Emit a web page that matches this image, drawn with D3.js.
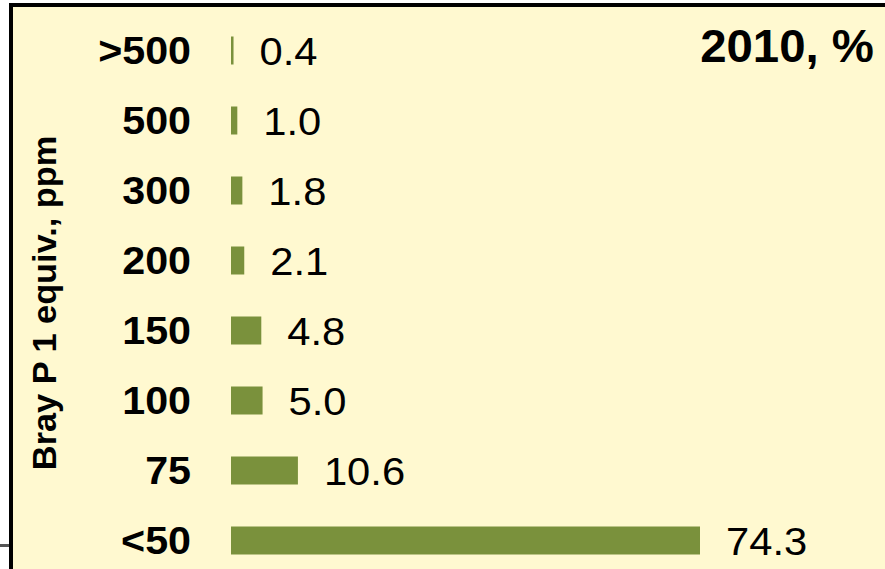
<!DOCTYPE html>
<html>
<head>
<meta charset="utf-8">
<script src="https://cdn.jsdelivr.net/npm/d3@7"></script>
<style>
  html, body { margin: 0; padding: 0; background: #ffffff; }
  svg { display: block; }
  text { font-family: Arial, "Liberation Sans", sans-serif; }
</style>
</head>
<body>
<div id="chart"></div>
<script>
const categories = [">500", "500", "300", "200", "150", "100", "75", "<50"];
const values = [0.4, 1.0, 1.8, 2.1, 4.8, 5.0, 10.6, 74.3];
const valueLabels = ["0.4", "1.0", "1.8", "2.1", "4.8", "5.0", "10.6", "74.3"];
const title = "2010, %";
const yAxisTitle = "Bray P 1 equiv., ppm";

const W = 885, H = 569;
const svg = d3.select("#chart").append("svg")
  .attr("width", W).attr("height", H);

// panel background
svg.append("rect").attr("x", 13).attr("y", 7).attr("width", W - 13).attr("height", H - 7)
  .attr("fill", "#fff9d0");
// borders
svg.append("rect").attr("x", 9).attr("y", 3).attr("width", W - 9).attr("height", 4).attr("fill", "#000");
svg.append("rect").attr("x", 9).attr("y", 3).attr("width", 4).attr("height", H - 3).attr("fill", "#000");
// small grey tick at left
svg.append("rect").attr("x", 0).attr("y", 544).attr("width", 9).attr("height", 3).attr("fill", "#555");

const x = d3.scaleLinear().domain([0, 74.3]).range([231, 700]);
const y = d3.scaleBand().domain(categories).range([15.5, 575.5])
  .paddingInner(0.6).paddingOuter(0.3);

const data = categories.map((c, i) => ({ c, v: values[i], label: valueLabels[i] }));

svg.selectAll("rect.bar").data(data).enter().append("rect")
  .attr("class", "bar")
  .attr("x", x(0))
  .attr("y", d => y(d.c))
  .attr("width", d => x(d.v) - x(0))
  .attr("height", y.bandwidth())
  .attr("fill", "#7a913c");

// category labels
svg.selectAll("text.cat").data(data).enter().append("text")
  .attr("class", "cat")
  .attr("transform", d => `translate(191,${y(d.c) + y.bandwidth() / 2 + 13.5}) scale(1.085,1)`)
  .attr("text-anchor", "end")
  .attr("font-weight", "bold")
  .attr("font-size", 38)
  .attr("fill", "#000")
  .text(d => d.c);

// value labels
svg.selectAll("text.val").data(data).enter().append("text")
  .attr("class", "val")
  .attr("transform", d => `translate(${x(d.v) + 26},${y(d.c) + y.bandwidth() / 2 + 14}) scale(1.07,1)`)
  .attr("font-size", 39)
  .attr("fill", "#000")
  .text(d => d.label);

// title
svg.append("text")
  .attr("transform", "translate(874,62) scale(1.03,1)")
  .attr("text-anchor", "end")
  .attr("font-weight", "bold")
  .attr("font-size", 46)
  .attr("fill", "#000")
  .text(title);

// y axis title
svg.append("text")
  .attr("transform", "translate(56,303) rotate(-90) scale(1.04,1)")
  .attr("text-anchor", "middle")
  .attr("font-weight", "bold")
  .attr("font-size", 33)
  .attr("fill", "#000")
  .text(yAxisTitle);
</script>
</body>
</html>
